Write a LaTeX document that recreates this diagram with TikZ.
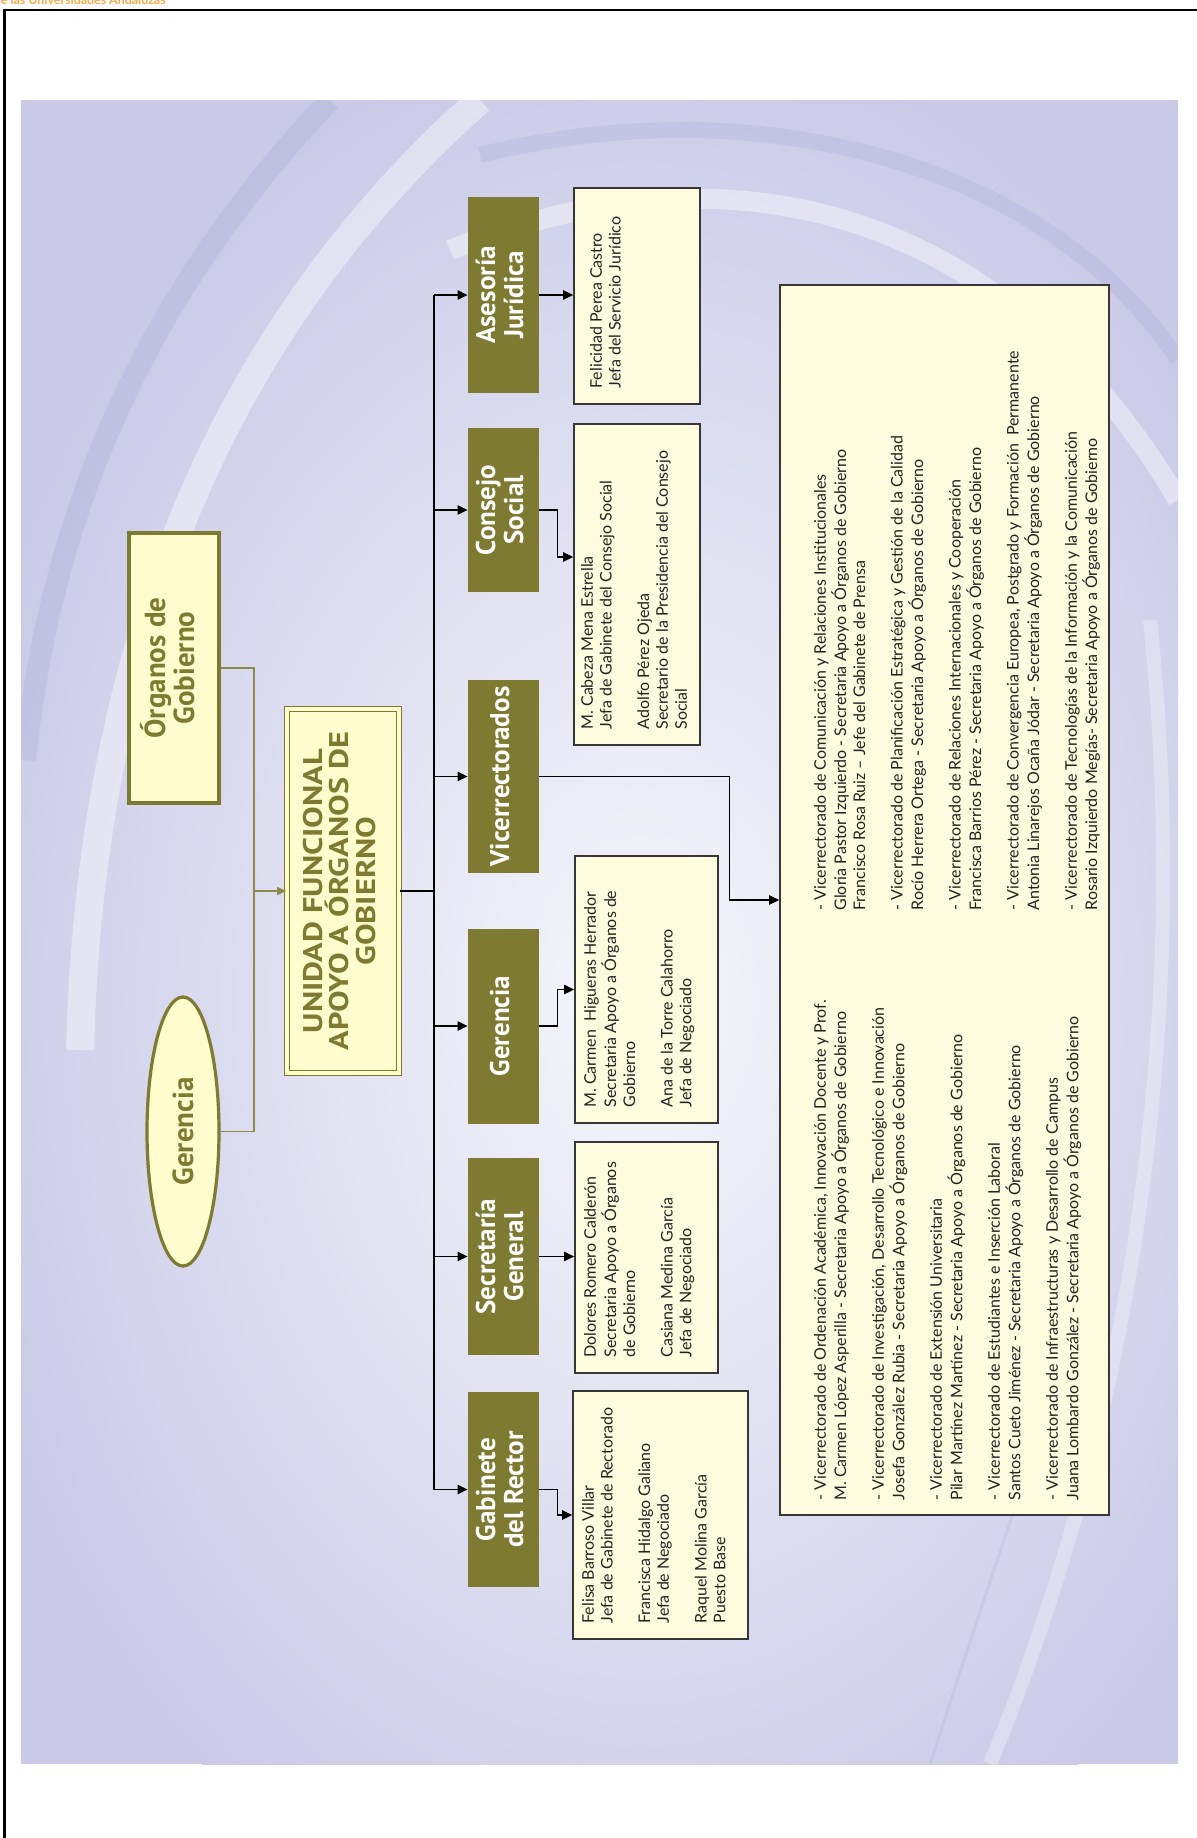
\documentclass[tikz,border=0pt]{standalone}
\usepackage{fontspec}
\usepackage{graphicx}
\setmainfont{Lato}
\newfontfamily\hdfont{PT Sans}
\newfontfamily\hdwide[FakeStretch=1.2]{PT Sans}
\usetikzlibrary{arrows.meta,calc,shapes.geometric}
\definecolor{ogreen}{RGB}{127,122,50}
\definecolor{olinec}{RGB}{140,138,75}
\definecolor{creamA}{RGB}{255,252,205}
\definecolor{creamB}{RGB}{255,251,222}
\definecolor{boxline}{RGB}{55,55,55}
\definecolor{txtc}{RGB}{35,35,35}
\definecolor{bgedge}{RGB}{202,202,232}
\definecolor{bgcenter}{RGB}{246,246,251}
\definecolor{bgdark}{RGB}{172,172,216}
\definecolor{orangec}{RGB}{247,170,70}
\newcommand\vl[2][l]{\rotatebox{90}{\begin{tabular}{@{}#1@{}}#2\end{tabular}}}
\begin{document}
\begin{tikzpicture}[x=0.5pt,y=-0.5pt,
  gbox/.style={fill=ogreen, draw=none, minimum width=35.5pt, inner sep=0pt, text=white,
    font=\hdfont\bfseries\fontsize{13.5}{14}\selectfont},
  tbox/.style={fill=creamB, draw=boxline, line width=0.8pt, inner sep=0pt},
  ttext/.style={inner sep=0pt, anchor=south west, text=txtc, font=\fontsize{8}{9.4}\selectfont},
  busline/.style={draw=black, line width=0.8pt},
  arr/.style={busline, -{Triangle[length=5pt, width=4.6pt]}},
  oline/.style={draw=olinec, line width=0.6pt},
  oarr/.style={oline, -{Triangle[length=4.5pt, width=4pt]}},
]
\useasboundingbox (0,0) rectangle (1197,1838);
% header and frame
\node[anchor=base east, inner sep=0pt, text=orangec, font=\bfseries\fontsize{6.2}{7}\selectfont] (hdr) at (166,4.5) {de las Universidades Andaluzas};
\draw[line width=1.2pt] (4.5,1838) -- (4.5,10) -- (1197,10);
% background
\begin{scope}
\clip (21,100) rectangle (1178,1764);
\fill[bgedge] (21,100) rectangle (1178,1764);
\shade[inner color=bgcenter, outer color=bgedge] (640,1000) ellipse [x radius=700, y radius=980];
\draw[white, opacity=0.4, line width=14pt] (480,100) .. controls (220,330) and (90,650) .. (80,1050);
\draw[bgdark, opacity=0.35, line width=11pt] (330,100) .. controls (140,300) and (50,520) .. (25,760);
\draw[white, opacity=0.4, line width=10pt] (450,250) .. controls (720,140) and (1000,200) .. (1178,500);
\draw[bgdark, opacity=0.3, line width=8pt] (480,155) .. controls (760,85) and (1050,165) .. (1178,360);
\draw[white, opacity=0.3, line width=7pt] (1150,620) .. controls (1195,1050) and (1120,1450) .. (990,1764);
\draw[bgdark, opacity=0.25, line width=1.5pt] (1060,1380) .. controls (1000,1550) .. (930,1764);
\end{scope}
% top level
\node[fill=creamA, draw=ogreen, line width=1.8pt, minimum width=45pt, minimum height=135pt, inner sep=0pt,
  text=ogreen, font=\hdfont\bfseries\fontsize{14.5}{14}\selectfont] (org) at (174,668) {\vl[c]{\smash{Órganos de}\\Gobierno}};
\node[ellipse, fill=creamA, draw=ogreen, line width=1.6pt, minimum width=36pt, minimum height=134.5pt, inner sep=0pt,
  text=ogreen, font=\hdfont\bfseries\fontsize{14.5}{14}\selectfont] (ger) at (183,1131.5) {\rotatebox{90}{Gerencia}};
\node[fill=creamA, draw=ogreen, double=creamA, double distance=1.6pt, line width=0.8pt, minimum width=56pt, minimum height=182pt, inner sep=0pt,
  text=ogreen, font=\hdwide\bfseries\fontsize{13.5}{13}\selectfont] (uni) at (343,891) {\vl[c]{UNIDAD FUNCIONAL\\\smash{APOYO A ÓRGANOS DE}\\GOBIERNO}};
\coordinate (ojn) at (254,891);
\draw[oline] (org.east) -| (ojn) |- (ger.east);
\draw[oarr] (ojn) -- (uni.west);
% green boxes
\node[gbox, minimum height=98pt] (gas) at (503.5,295) {\vl[c]{Asesoría\\Jurídica}};
\node[gbox, minimum height=82pt] (gcs) at (503.5,510) {\vl[c]{Consejo\\Social}};
\node[gbox, minimum height=96.5pt] (gvr) at (503.5,776.5) {\vl[c]{Vicerrectorados}};
\node[gbox, minimum height=97.5pt] (gge) at (503.5,1026) {\vl[c]{Gerencia}};
\node[gbox, minimum height=98.5pt] (gsg) at (503.5,1256.5) {\vl[c]{Secretaría\\General}};
\node[gbox, minimum height=97.5pt] (ggr) at (503.5,1489.5) {\vl[c]{Gabinete\\del Rector}};
% bus
\coordinate (bjn) at (434,891);
\draw[busline] (uni.east) -- (bjn);
\draw[busline] (bjn |- gas.west) -- (bjn |- ggr.west);
\foreach \n in {gas,gcs,gvr,gge,gsg,ggr} \draw[arr] (bjn |- \n.west) -- (\n.west);
% text boxes
\node[tbox, minimum width=63pt, minimum height=108pt] (tas) at (637,296) {};
\node[tbox, minimum width=63pt, minimum height=160.5pt] (tcs) at (637,584.5) {};
\node[tbox, minimum width=71.5pt, minimum height=133.5pt] (tge) at (646.5,989.5) {};
\node[tbox, minimum width=71.5pt, minimum height=115.5pt] (tsg) at (646.5,1257.5) {};
\node[tbox, minimum width=87.5pt, minimum height=124pt] (tgr) at (660.5,1515) {};
\node[tbox, minimum width=164.5pt, minimum height=615pt] (tvr) at (944.5,900) {};
\node[ttext] (xas) at ($(tas.south west)+(15,-16)$) {\vl{Felicidad Perea Castro\\Jefa del Servicio Jurídico}};
\node[ttext] (xcs) at ($(tcs.south west)+(6,-16)$) {\vl{M. Cabeza Mena Estrella\\Jefa de Gabinete del Consejo Social\\ \\Adolfo Pérez Ojeda\\Secretario de la Presidencia del Consejo\\Social}};
\node[ttext] (xge) at ($(tge.south west)+(8,-16)$) {\vl{M. Carmen\ \ Higueras Herrador\\Secretaria Apoyo a Órganos de\\Gobierno\\ \\Ana de la Torre Calahorro\\Jefa de Negociado}};
\node[ttext] (xsg) at ($(tsg.south west)+(8,-16)$) {\vl{Dolores Romero Calderón\\Secretaria Apoyo a Órganos\\de Gobierno\\ \\Casiana Medina García\\Jefa de Negociado}};
\node[ttext] (xgr) at ($(tgr.south west)+(8,-16)$) {\vl{Felisa Barroso Villar\\Jefa de Gabinete de Rectorado\\ \\Francisca Hidalgo Galiano\\Jefa de Negociado\\ \\Raquel Molina García\\Puesto Base}};
\node[ttext] (xv1) at ($(tvr.south west)+(33,-15)$) {\vl{- Vicerrectorado de Ordenación Académica, Innovación Docente y Prof.\\M. Carmen López Asperilla - Secretaria Apoyo a Órganos de Gobierno\\ \\- Vicerrectorado de Investigación, Desarrollo Tecnológico e Innovación\\Josefa González Rubia - Secretaria Apoyo a Órganos de Gobierno\\ \\- Vicerrectorado de Extensión Universitaria\\Pilar Martínez Martínez - Secretaria Apoyo a Órganos de Gobierno\\ \\- Vicerrectorado de Estudiantes e Inserción Laboral\\Santos Cueto Jiménez - Secretaria Apoyo a Órganos de Gobierno\\ \\- Vicerrectorado de Infraestructuras y Desarrollo de Campus\\Juana Lombardo González - Secretaria Apoyo a Órganos de Gobierno}};
\node[ttext] (xv2) at ($(tvr.south west)+(33,-605)$) {\vl{- Vicerrectorado de Comunicación y Relaciones Institucionales\\Gloria Pastor Izquierdo - Secretaria Apoyo a Órganos de Gobierno\\Francisco Rosa Ruiz -- Jefe del Gabinete de Prensa\\ \\- Vicerrectorado de Planificación Estratégica y Gestión de la Calidad\\Rocío Herrera Ortega - Secretaria Apoyo a Órganos de Gobierno\\ \\- Vicerrectorado de Relaciones Internacionales y Cooperación\\Francisca Barrios Pérez - Secretaria Apoyo a Órganos de Gobierno\\ \\- Vicerrectorado de Convergencia Europea, Postgrado y Formación\ \ Permanente\\Antonia Linarejos Ocaña Jódar - Secretaria Apoyo a Órganos de Gobierno\\ \\- Vicerrectorado de Tecnologías de la Información y la Comunicación\\Rosario Izquierdo Megías- Secretaria Apoyo a Órganos de Gobierno}};
% green to text connectors
\coordinate (acs) at (574,557);
\draw[arr] (gas.east) -- (gas.east -| tas.west);
\draw[arr] (gcs.east) -- ++(18,0) |- (tcs.west |- acs);
\draw[arr] (gvr.east) -- ++(190,0) |- (tvr.west);
\draw[arr] (gge.east) -- ++(18,0) |- (tge.west);
\draw[arr] (gsg.east) -- (gsg.east -| tsg.west);
\draw[arr] (ggr.east) -- ++(18,0) |- (tgr.west);
\end{tikzpicture}
\end{document}
